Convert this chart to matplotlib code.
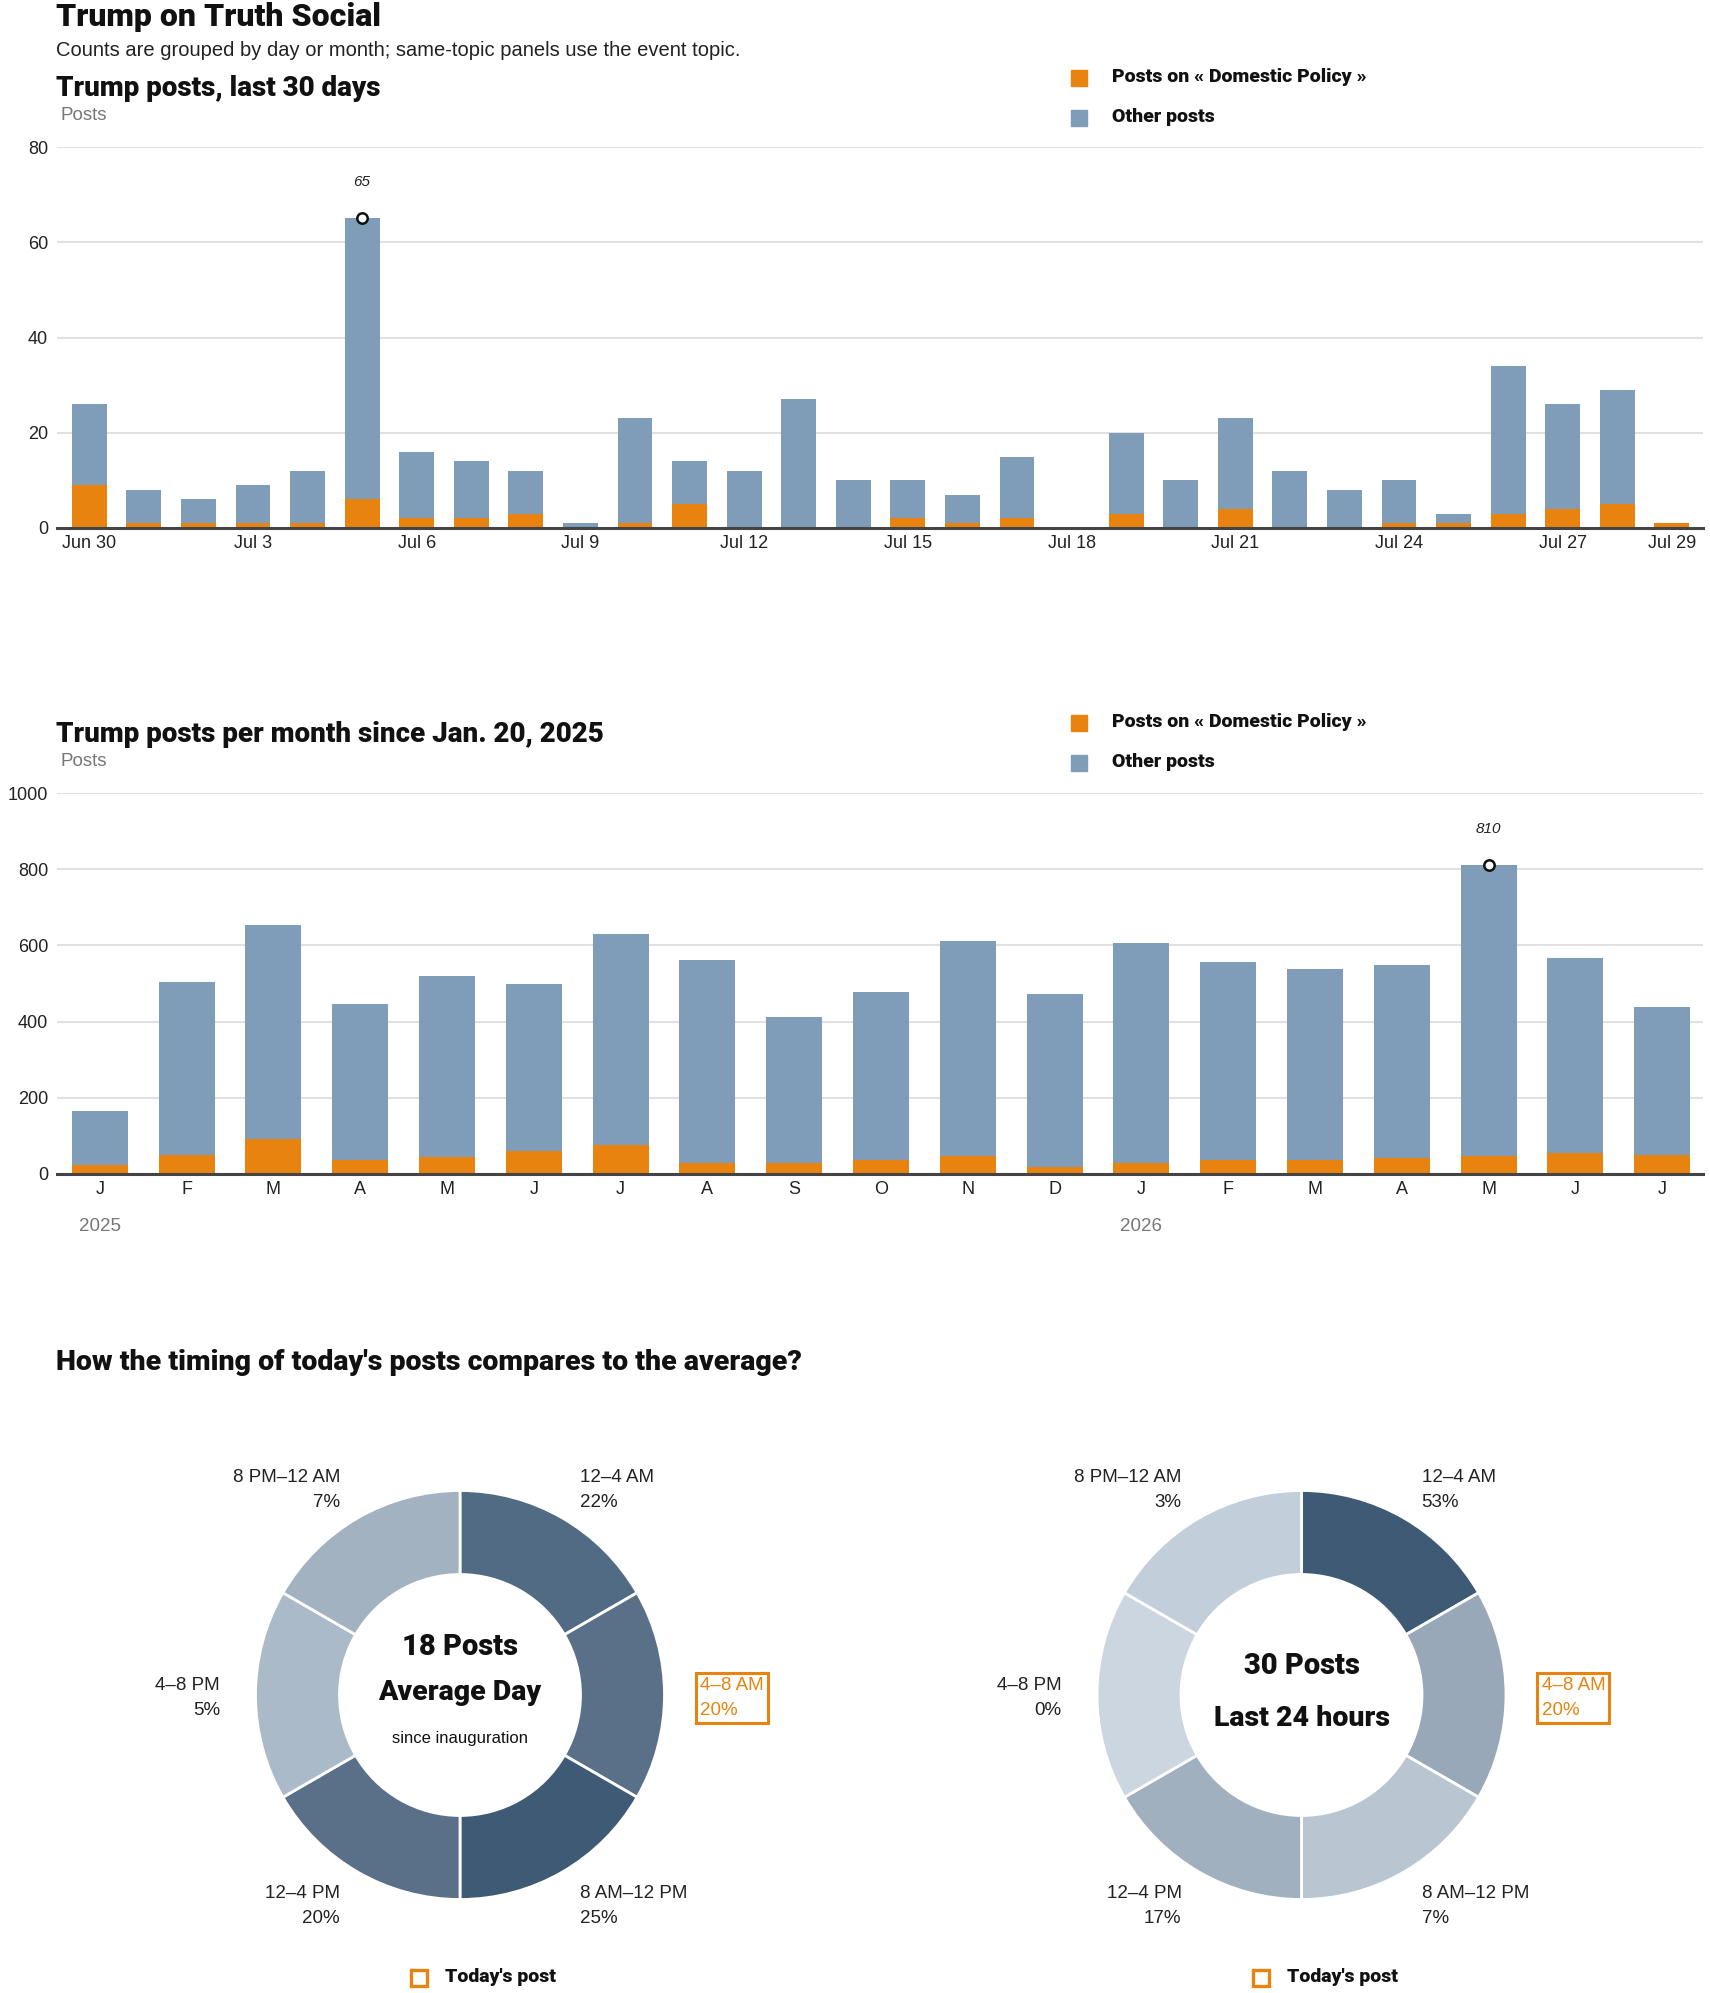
import matplotlib
matplotlib.use("Agg")
import numpy as np
import matplotlib.pyplot as plt
from matplotlib import font_manager as fm
from matplotlib.patches import Rectangle

# ---- data -------------------------------------------------------------
day_labels = ["Jun 30"] + ["Jul %d" % d for d in range(1, 30)]
day_total = [26, 8, 6, 9, 12, 65, 16, 14, 12, 1, 23, 14, 12, 27, 10,
             10, 7, 15, 0, 20, 10, 23, 12, 8, 10, 3, 34, 26, 29, 1]
day_topic = [9, 1, 1, 1, 1, 6, 2, 2, 3, 0, 1, 5, 0, 0, 0,
             2, 1, 2, 0, 3, 0, 4, 0, 0, 1, 1, 3, 4, 5, 1]
day_ticks = [0, 3, 6, 9, 12, 15, 18, 21, 24, 27, 29]

month_labels = ["J", "F", "M", "A", "M", "J", "J", "A", "S", "O", "N", "D",
                "J", "F", "M", "A", "M", "J", "J"]
month_total = [165, 504, 654, 447, 520, 499, 630, 562, 412, 477, 612, 473,
               607, 556, 538, 549, 810, 568, 438]
month_topic = [24, 51, 92, 38, 45, 60, 76, 30, 30, 38, 47, 19,
               30, 38, 38, 43, 47, 56, 51]
year_labels = {0: "2025", 12: "2026"}

slots = ["12–4 AM", "4–8 AM", "8 AM–12 PM", "12–4 PM", "4–8 PM", "8 PM–12 AM"]
avg_share = [22, 20, 25, 20, 5, 7]
today_share = [53, 20, 7, 17, 0, 3]
today_slot = 1
avg_posts = 18
today_posts = 30

# ---- style ------------------------------------------------------------
W, H = 1710, 1993
ORANGE = "#e8830f"
BLUE = "#7f9db9"
GRID = "#dcdcdc"
REG = ["Liberation Sans", "DejaVu Sans"]
avg_colors = ["#516b84", "#5a7088", "#3f5a75", "#5a7088", "#aabac8", "#a2b2c0"]
today_colors = ["#3f5a75", "#98a8b8", "#b9c6d2", "#a0b0be", "#cbd6e0", "#c2ceda"]


def pick_heavy():
    # heaviest upright face among the installed sans families
    best, best_w = "Lato", 0
    for fam in ["Roboto", "Inter", "Lato", "Open Sans", "Noto Sans"]:
        for f in fm.fontManager.ttflist:
            w = f.weight if isinstance(f.weight, int) else 700
            if f.name == fam and f.style == "normal" and w > best_w:
                best, best_w = fam, w
    return best


HEAVY = [pick_heavy(), "DejaVu Sans"]
plt.rcParams["font.family"] = REG


def fx(x):
    return x / W


def fy(y):
    return 1 - y / H


def ftext(x, y, s, **kw):
    fig.text(fx(x), fy(y), s, **kw)


def heavy(x, y, s, size, **kw):
    ftext(x, y, s, family=HEAVY, weight="black", size=size, color="#111",
          va="center", **kw)


def legend(y):
    for i, (c, lab) in enumerate([(ORANGE, "Posts on « Domestic Policy »"),
                                  (BLUE, "Other posts")]):
        yy = y + 40 * i
        fig.add_artist(Rectangle((fx(1071), fy(yy + 9)), 16 / W, 16 / H,
                                 transform=fig.transFigure, color=c))
        heavy(1112, yy, lab, 14)


def bar_axes(top, bottom, ymax, step, cats, total, topic, width):
    ax = fig.add_axes([fx(56.5), fy(bottom), (1703 - 56.5) / W,
                       (bottom - top) / H])
    x = list(range(len(cats)))
    other = [t - d for t, d in zip(total, topic)]
    ax.bar(x, topic, width=width, color=ORANGE, lw=0)
    ax.bar(x, other, bottom=topic, width=width, color=BLUE, lw=0)
    ax.set_ylim(0, ymax)
    ax.set_yticks(range(0, ymax + 1, step))
    ax.yaxis.grid(True, color=GRID, lw=1.2)
    ax.set_axisbelow(True)
    for s in ["left", "right", "top"]:
        ax.spines[s].set_visible(False)
    ax.spines["bottom"].set_color("#444")
    ax.spines["bottom"].set_linewidth(2.2)
    ax.tick_params(length=0, labelsize=13, labelcolor="#222")
    ax.tick_params(axis="y", pad=6)
    ax.tick_params(axis="x", pad=5)
    # peak marker
    peak = total.index(max(total))
    ax.plot(peak, total[peak], "o", ms=7.5, mfc="white", mec="#111", mew=1.8,
            zorder=5, clip_on=False)
    ax.annotate(str(total[peak]), (peak, total[peak]), xytext=(0, 26),
                textcoords="offset points", ha="center", va="center",
                style="italic", size=11, color="#222")
    return ax


def donut(cx, cy, shares, colors, lines):
    ax = fig.add_axes([fx(cx - 300), fy(cy + 300), 600 / W, 600 / H])
    ax.pie([1] * len(shares), colors=colors, radius=204.5, startangle=90,
           counterclock=False,
           wedgeprops=dict(width=84, edgecolor="white", linewidth=2))
    ax.set_xlim(-300, 300)
    ax.set_ylim(-300, 300)
    ax.set_aspect("equal")
    ax.axis("off")
    for i, (slot, share) in enumerate(zip(slots, shares)):
        ang = np.deg2rad(30 + 60 * i)
        lx, ly = 240 * np.sin(ang), 240 * np.cos(ang) - 3
        ha = "left" if lx > 1 else "right"
        kw = dict(ha=ha, va="center", size=13.5, linespacing=1.6,
                  color="#222", clip_on=False)
        if i == today_slot:
            kw.update(color=ORANGE,
                      bbox=dict(boxstyle="square,pad=0.22", fc="none",
                                ec=ORANGE, lw=2.2))
        ax.text(lx, ly, "%s\n%d%%" % (slot, share), **kw)
    for dy, s, size, w in lines:
        ax.text(0, dy, s, ha="center", va="center", size=size,
                family=HEAVY if w else REG, weight="black" if w else "normal",
                color="#111")
    # legend square
    fig.add_artist(Rectangle((fx(cx - 49), fy(cy + 291)), 16 / W, 16 / H,
                             transform=fig.transFigure, fill=False,
                             ec=ORANGE, lw=2.4))
    heavy(cx - 15, cy + 282, "Today's post", 14)


fig = plt.figure(figsize=(W / 100, H / 100), dpi=100)

# ---- header -----------------------------------------------------------
heavy(56, 17, "Trump on Truth Social", 23)
ftext(56, 50, "Counts are grouped by day or month; same-topic panels use the "
      "event topic.", size=14.5, color="#222", va="center")

# ---- last 30 days -----------------------------------------------------
heavy(56, 88, "Trump posts, last 30 days", 20)
ftext(60, 116, "Posts", size=13.5, color="#777", va="center")
legend(77)
ax1 = bar_axes(147, 528, 80, 20, day_labels, day_total, day_topic, 0.64)
ax1.set_xlim(-0.6, len(day_labels) - 0.43)
ax1.set_xticks(day_ticks, [day_labels[i] for i in day_ticks])

# ---- per month --------------------------------------------------------
heavy(56, 735, "Trump posts per month since Jan. 20, 2025", 20)
ftext(60, 761, "Posts", size=13.5, color="#777", va="center")
legend(722)
ax2 = bar_axes(793, 1174, 1000, 200, month_labels, month_total, month_topic,
               0.645)
ax2.set_xlim(-0.5, len(month_labels) - 0.53)
ax2.set_xticks(range(len(month_labels)), month_labels)
for i, yr in year_labels.items():
    ax2.annotate(yr, (i, 0), xytext=(0, -38), textcoords="offset points",
                 ha="center", va="center", size=13.5, color="#777",
                 xycoords=("data", "axes fraction"))

# ---- donuts -----------------------------------------------------------
heavy(56, 1363, "How the timing of today's posts compares to the average?",
      20.5)
donut(460, 1695, avg_share, avg_colors,
      [(48, "%d Posts" % avg_posts, 21, True),
       (2.5, "Average Day", 20.5, True),
       (-43, "since inauguration", 12, False)])
donut(1301.5, 1695, today_share, today_colors,
      [(29.5, "%d Posts" % today_posts, 21, True),
       (-24, "Last 24 hours", 20.5, True)])

fig.savefig("out.png", dpi=100)
